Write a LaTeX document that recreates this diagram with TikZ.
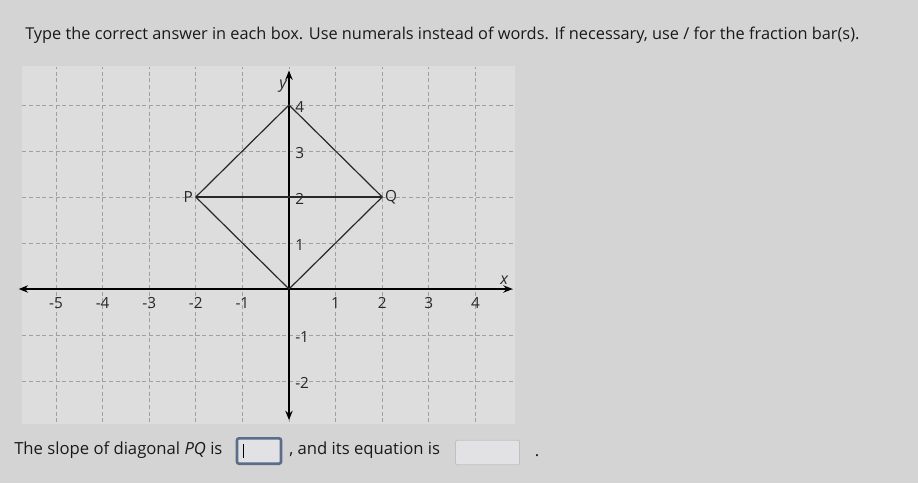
\documentclass[tikz,border=0pt]{standalone}
\usepackage{fontspec}
\setmainfont{Open Sans}
\usetikzlibrary{arrows.meta}
\definecolor{pagegray}{RGB}{212,212,212}
\definecolor{gridpaper}{RGB}{221,221,221}
\definecolor{gridline}{RGB}{160,160,160}
\definecolor{boxblue}{RGB}{90,110,140}
\definecolor{boxfill}{RGB}{226,226,228}
\definecolor{boxedge}{RGB}{192,192,192}
\definecolor{inkgray}{RGB}{40,40,40}
\tikzset{
  gridlines/.style={gridline, dash pattern=on 3pt off 2pt, line width=0.6pt},
  axisline/.style={black, line width=1.1pt, {Stealth[length=7pt,width=5.5pt]}-{Stealth[length=7pt,width=5.5pt]}},
  sideline/.style={inkgray, line width=0.9pt},
  ticklabel/.style={font=\fontsize{11.5}{13}\selectfont, text=inkgray, inner sep=1pt},
  plainline/.style={font=\fontsize{12.5}{14}\selectfont, text=black!90, inner sep=0pt},
  answerbox/.style={rounded corners=1.5pt, fill=boxfill}
}
\begin{document}
\begin{tikzpicture}[x=0.75pt,y=-0.75pt]
  \fill[pagegray] (0,0) rectangle (918,483);
  \useasboundingbox (0,0) rectangle (918,483);
  \node[plainline, anchor=west, font=\fontsize{12.25}{14}\selectfont] (instr) at (25,35)
    {Type the correct answer in each box. Use numerals instead of words. If necessary, use / for the fraction bar(s).};
  % grid paper
  \fill[gridpaper] (22,66) rectangle (515,424);
  \begin{scope}[shift={(289,289)}, x=34.95pt, y=34.5pt]
    \foreach \i in {-5,...,4}
      \draw[gridlines] (\i,-2.9) -- (\i,4.82);
    \foreach \j in {-2,...,4}
      \draw[gridlines] (-5.72,\j) -- (4.82,\j);
    \coordinate (xl) at (-5.8,0);
    \coordinate (xr) at (4.8,0);
    \coordinate (yb) at (0,-2.85);
    \coordinate (yt) at (0,4.75);
    \draw[axisline] (xl) -- (xr);
    \draw[axisline] (yb) -- (yt);
    \node[ticklabel, font=\fontsize{12}{13}\selectfont\itshape] (xname) at (4.62,0.2) {x};
    \node[ticklabel, font=\fontsize{12}{13}\selectfont\itshape] (yname) at (-0.13,4.42) {y};
    \foreach \i in {-5,...,-1,1,2,3,4}
      \node[ticklabel] (xt\i) at (\i,-0.3) {\i};
    \foreach \j in {-2,-1,1,2,3,4}
      \node[ticklabel, anchor=west] (yt\j) at (0.1,\j-0.04) {\j};
    % diamond and diagonal PQ
    \coordinate (O) at (0,0);
    \coordinate (T) at (0,4);
    \coordinate (P) at (-2,2);
    \coordinate (Q) at (2,2);
    \draw[sideline] (T) -- (Q) -- (O) -- (P) -- cycle;
    \draw[sideline] (P) -- (Q);
    \node[ticklabel, anchor=east, inner sep=2pt] (plab) at (P) {P};
    \node[ticklabel, anchor=west, inner sep=2pt] (qlab) at (Q) {Q};
  \end{scope}
  % answer line
  \node[plainline, anchor=west] (slope) at (14,450) {The slope of diagonal \textit{PQ} is};
  \node[answerbox, draw=boxblue, line width=2pt, minimum width=33pt, minimum height=19pt] (box1) at (259,451) {};
  \draw[black, line width=0.8pt] ([xshift=6pt,yshift=-5pt]box1.north west) -- ([xshift=6pt,yshift=5pt]box1.south west);
  \node[plainline, anchor=west] (eqn) at (289,450) {, and its equation is};
  \node[answerbox, draw=boxedge, line width=0.6pt, minimum width=48pt, minimum height=18.5pt] (box2) at (487.5,452.5) {};
  \node[plainline] (stop) at (537,456) {.};
\end{tikzpicture}
\end{document}
